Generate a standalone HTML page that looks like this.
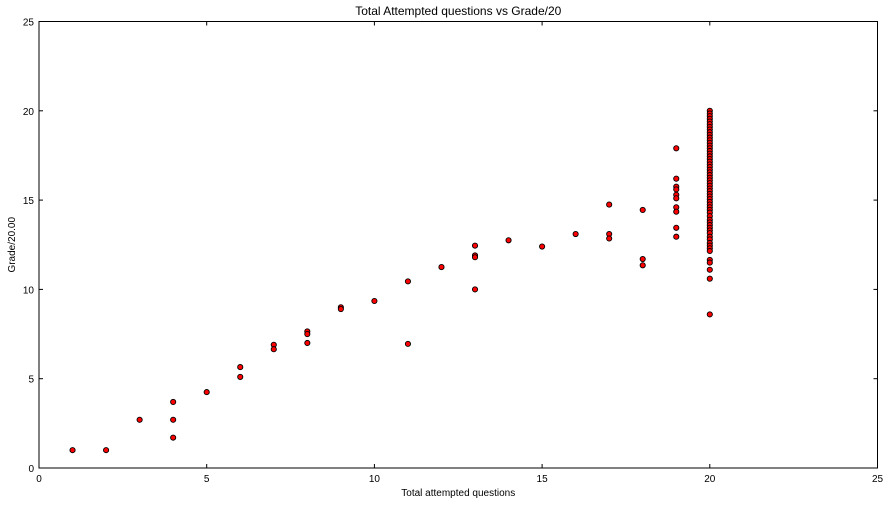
<!DOCTYPE html>
<html><head><meta charset="utf-8"><style>
body{margin:0;background:#fff;}
svg text{font-family:"Liberation Sans",sans-serif;fill:#000;}
</style></head><body>
<svg id="chart" width="889" height="504" xmlns="http://www.w3.org/2000/svg"></svg>
<script>
const xTicks=[0,5,10,15,20,25];
const yTicks=[0,5,10,15,20,25];
const xVals=[1,2,3,4,4,4,5,6,6,7,7,8,8,8,9,9,10,11,11,12,13,13,13,13,14,15,16,17,17,17,18,18,18,19,19,19,19,19,19,19,19,19,19,
20,20,20,20,20,20,20,20,20,20,20,20,20,20,20,20,20,20,20,20,20,20,20,20,20,20,20,20,20,20,20,20,20,20,20,20,20,20,20,20,20,20,20,20,20,20,20,20,20,20,20,20,20,20,20,20,20];
const yVals=[1.0,1.0,2.7,3.7,2.7,1.7,4.25,5.65,5.1,6.9,6.65,7.65,7.5,7.0,9.0,8.9,9.35,10.45,6.95,11.25,12.45,11.9,11.8,10.0,12.75,12.4,13.1,14.75,13.1,12.85,14.45,11.7,11.35,17.9,16.2,15.75,15.6,15.3,15.1,14.6,14.35,13.45,12.95,
20.0,19.85,19.7,19.55,19.4,19.25,19.1,18.95,18.8,18.65,18.5,18.35,18.2,18.05,17.9,17.75,17.6,17.45,17.3,17.15,17.0,16.85,16.7,16.55,16.4,16.25,16.1,15.95,15.8,15.65,15.5,15.35,15.2,15.05,14.9,14.75,14.6,14.45,14.3,14.1,13.9,13.75,13.6,13.45,13.3,13.15,12.95,12.8,12.6,12.45,12.3,12.15,11.65,11.5,11.1,10.6,8.6];
const L=39,R=877.5,T=21.5,B=468;
const sx=v=>L+(v-0)/25*(R-L);
const sy=v=>B-(v-0)/25*(B-T);
const svg=document.getElementById('chart');
const NS='http://www.w3.org/2000/svg';
function mk(tag,attrs){const e=document.createElementNS(NS,tag);for(const k in attrs)e.setAttribute(k,attrs[k]);svg.appendChild(e);return e;}
let t=mk('text',{x:(L+R)/2,y:15,'text-anchor':'middle','font-size':12});t.textContent='Total Attempted questions vs Grade/20';


xTicks.forEach(v=>{
  const g=mk('line',{x1:sx(v),x2:sx(v),y1:B,y2:B-4,stroke:'#000'});
  
  
  mk('line',{x1:sx(v),x2:sx(v),y1:T,y2:T+4,stroke:'#000'});
  const tx=mk('text',{x:sx(v),y:B+14,'text-anchor':'middle','font-size':10});tx.textContent=v;
  
  
});
yTicks.forEach(v=>{
  const g=mk('line',{x1:L,x2:L+4,y1:sy(v),y2:sy(v),stroke:'#000'});
  
  
  mk('line',{x1:R,x2:R-4,y1:sy(v),y2:sy(v),stroke:'#000'});
  const tx=mk('text',{x:L-5,y:sy(v)+4,'text-anchor':'end','font-size':10});tx.textContent=v;
  
  
});
xVals.forEach((x,i)=>{
  const c=mk('circle',{cx:sx(x),cy:sy(yVals[i]),r:2.6,fill:'#ff0000',stroke:'#000','stroke-width':0.9});
  
  
});
const fr=mk('rect',{x:L,y:T,width:R-L,height:B-T,fill:'none',stroke:'#000','stroke-width':1});


const xl=mk('text',{x:(L+R)/2,y:496,'text-anchor':'middle','font-size':10});xl.textContent='Total attempted questions';


const yl=mk('text',{x:15,y:(T+B)/2,'text-anchor':'middle','font-size':10,transform:`rotate(-90 15 ${(T+B)/2})`});yl.textContent='Grade/20.00';


</script>
</body></html>
